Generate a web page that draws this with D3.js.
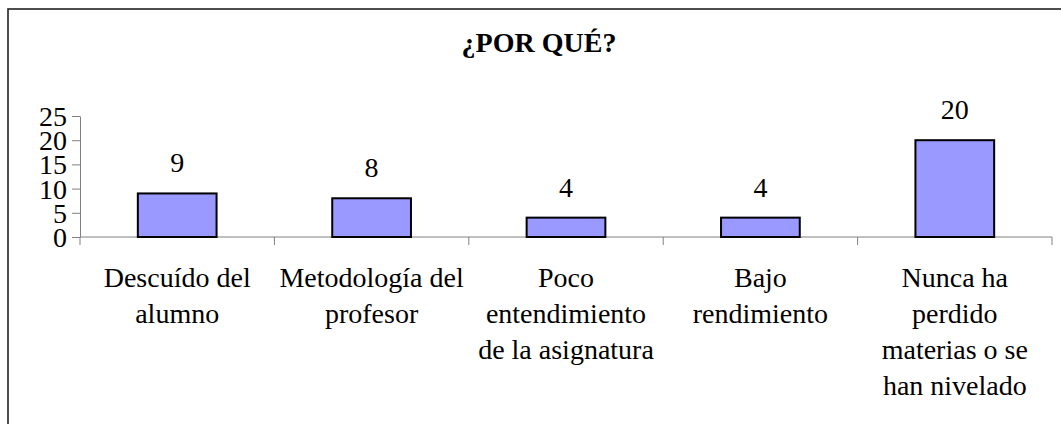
<!DOCTYPE html>
<html>
<head>
<meta charset="utf-8">
<script src="https://cdn.jsdelivr.net/npm/d3@7"></script>
<style>
  body { margin: 0; background: #fff; }
  text { font-family: "Liberation Serif", "Times New Roman", serif; fill: #000; }
</style>
</head>
<body>
<div id="chart"></div>
<script>
var title = "¿POR QUÉ?";
var categories = [
  "Descuído del\nalumno",
  "Metodología del\nprofesor",
  "Poco\nentendimiento\nde la asignatura",
  "Bajo\nrendimiento",
  "Nunca ha\nperdido\nmaterias o se\nhan nivelado"
];
var values = [9, 8, 4, 4, 20];
var yTicks = [0, 5, 10, 15, 20, 25];

var width = 1061;
var height = 424;
var plotLeft = 80, plotRight = 1052, plotTop = 116, plotBottom = 237;

var svg = d3.select("#chart").append("svg")
            .attr("width", width)
            .attr("height", height);

/* outer frame, only left and top edges show */
svg.append("rect")
   .attr("x", 8).attr("y", 9)
   .attr("width", 1200).attr("height", 600)
   .attr("fill", "none")
   .attr("stroke", "#222")
   .attr("stroke-width", 1.6);

svg.append("text")
   .attr("x", 539).attr("y", 52)
   .attr("text-anchor", "middle")
   .style("font-size", "28px")
   .style("font-weight", "bold")
   .text(title);

var x = d3.scaleBand()
          .domain(d3.range(categories.length))
          .range([plotLeft, plotRight])
          .padding(0);

var y = d3.scaleLinear()
          .domain([0, 25])
          .range([plotBottom, plotTop]);

var barW = x.bandwidth() * 0.405;

// y axis
var yAxis = svg.append("g")
   .attr("transform", "translate(" + plotLeft + ",0)")
   .call(d3.axisLeft(y).tickValues(yTicks).tickSize(8).tickPadding(5).tickSizeOuter(0));
yAxis.select(".domain").attr("stroke", "#808080");
yAxis.selectAll(".tick line").attr("stroke", "#808080");
yAxis.selectAll(".tick text")
     .style("font-size", "28px")
     .style("font-family", "Liberation Serif, serif")
     .attr("fill", "#000")
     .attr("dy", "0.34em");

// x axis line + ticks between categories
svg.append("line")
   .attr("x1", plotLeft).attr("x2", plotRight)
   .attr("y1", plotBottom).attr("y2", plotBottom)
   .attr("stroke", "#808080");

var edges = d3.range(categories.length + 1).map(function(i) {
  return i < categories.length ? x(i) : x(i - 1) + x.bandwidth();
});
svg.selectAll("line.xtick")
   .data(edges)
   .enter()
   .append("line")
   .attr("class", "xtick")
   .attr("x1", function(d) { return d; })
   .attr("x2", function(d) { return d; })
   .attr("y1", plotBottom)
   .attr("y2", plotBottom + 8)
   .attr("stroke", "#808080");

// bars
svg.selectAll("rect.bar")
   .data(values)
   .enter()
   .append("rect")
   .attr("class", "bar")
   .attr("x", function(d, i) { return x(i) + (x.bandwidth() - barW) / 2; })
   .attr("y", function(d) { return y(d); })
   .attr("width", barW)
   .attr("height", function(d) { return y(0) - y(d); })
   .attr("fill", "#9999FF")
   .attr("stroke", "#000")
   .attr("stroke-width", 2);

// value labels
svg.selectAll("text.val")
   .data(values)
   .enter()
   .append("text")
   .attr("class", "val")
   .attr("x", function(d, i) { return x(i) + x.bandwidth() / 2; })
   .attr("y", function(d) { return y(d) - 21; })
   .attr("text-anchor", "middle")
   .style("font-size", "28px")
   .text(function(d) { return d; });

// category labels
var lab = svg.selectAll("text.cat")
   .data(categories)
   .enter()
   .append("text")
   .attr("class", "cat")
   .attr("text-anchor", "middle")
   .style("font-size", "28px");

lab.each(function(d, i) {
  var t = d3.select(this);
  d.split("\n").forEach(function(line, j) {
    t.append("tspan")
     .attr("x", x(i) + x.bandwidth() / 2)
     .attr("y", 287 + j * 36)
     .text(line);
  });
});
</script>
</body>
</html>
